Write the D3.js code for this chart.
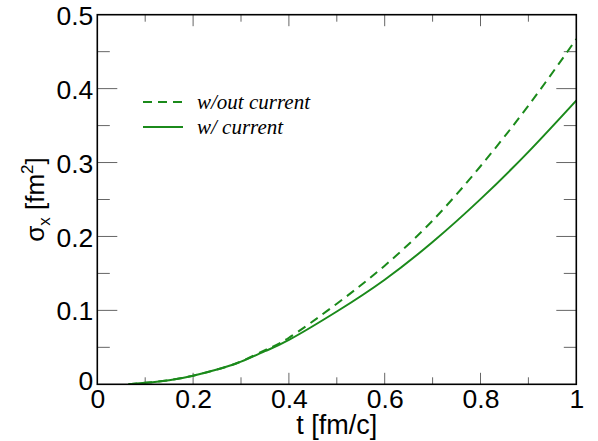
<!DOCTYPE html>
<html>
<head>
<meta charset="utf-8">
<script src="https://cdn.jsdelivr.net/npm/d3@7"></script>
<style>
  html, body { margin: 0; padding: 0; background: #fff; }
  svg { display: block; }
</style>
</head>
<body>
<svg id="chart" width="598" height="441"></svg>
<script>
// ---- data ----
const tWith = [0.065, 0.1, 0.15, 0.2, 0.25, 0.3, 0.35, 0.4, 0.5, 0.6, 0.7, 0.8, 0.9, 1.0];
const sigmaWith = [0.0, 0.002, 0.0055, 0.0117, 0.020, 0.0306, 0.0448, 0.060, 0.0985, 0.1415, 0.1925, 0.2505, 0.3145, 0.384];
const tWithout = [0.065, 0.1, 0.15, 0.2, 0.25, 0.3, 0.35, 0.4, 0.5, 0.6, 0.7, 0.8, 0.9, 1.0];
const sigmaWithout = [0.0, 0.002, 0.0055, 0.0117, 0.020, 0.0308, 0.0462, 0.063, 0.109, 0.1605, 0.2215, 0.295, 0.377, 0.467];
const seriesNames = ["w/out current", "w/ current"];
const xTicks = [0, 0.2, 0.4, 0.6, 0.8, 1];
const xTickLabels = ["0", "0.2", "0.4", "0.6", "0.8", "1"];
const yTicks = [0, 0.1, 0.2, 0.3, 0.4, 0.5];
const yTickLabels = ["0", "0.1", "0.2", "0.3", "0.4", "0.5"];
const xMinor = [0.1, 0.3, 0.5, 0.7, 0.9];
const yMinor = [0.05, 0.15, 0.25, 0.35, 0.45];

// ---- layout ----
const svg = d3.select("#chart");
const L = 97.3, R = 576.3, T = 14.7, B = 384.3;
const x = d3.scaleLinear().domain([0, 1]).range([L, R]);
const y = d3.scaleLinear().domain([0, 0.5]).range([B, T]);
const green = "#1b8a1b";
const tickColor = "#666";

// ticks (inside, mirrored)
const g = svg.append("g");
function xTickLines(vals, len) {
  vals.forEach(v => {
    g.append("line").attr("x1", x(v)).attr("x2", x(v)).attr("y1", B).attr("y2", B - len)
      .attr("stroke", tickColor).attr("stroke-width", 1);
    g.append("line").attr("x1", x(v)).attr("x2", x(v)).attr("y1", T).attr("y2", T + len)
      .attr("stroke", tickColor).attr("stroke-width", 1);
  });
}
function yTickLines(vals, len) {
  vals.forEach(v => {
    g.append("line").attr("y1", y(v)).attr("y2", y(v)).attr("x1", L).attr("x2", L + len)
      .attr("stroke", tickColor).attr("stroke-width", 1);
    g.append("line").attr("y1", y(v)).attr("y2", y(v)).attr("x1", R).attr("x2", R - len)
      .attr("stroke", tickColor).attr("stroke-width", 1);
  });
}
xTickLines(xTicks.slice(1, -1), 11.5);
xTickLines(xMinor, 7);
yTickLines(yTicks.slice(1, -1), 20);
yTickLines(yMinor, 12.5);

// curves
const line = d3.line().x(d => x(d[0])).y(d => y(d[1])).curve(d3.curveNatural);
const dWithout = tWithout.map((t, i) => [t, sigmaWithout[i]]);
const dWith = tWith.map((t, i) => [t, sigmaWith[i]]);
svg.append("clipPath").attr("id", "clip").append("rect")
  .attr("x", L).attr("y", T).attr("width", R - L).attr("height", B - T);
svg.append("path").datum(dWithout).attr("d", line).attr("fill", "none")
  .attr("stroke", green).attr("stroke-width", 2).attr("stroke-dasharray", "9,6")
  .attr("clip-path", "url(#clip)");
svg.append("path").datum(dWith).attr("d", line).attr("fill", "none")
  .attr("stroke", green).attr("stroke-width", 2)
  .attr("clip-path", "url(#clip)");

// frame
svg.append("rect").attr("x", L).attr("y", T).attr("width", R - L).attr("height", B - T)
  .attr("fill", "none").attr("stroke", "#000").attr("stroke-width", 1.6);

// tick labels
const font = "'Liberation Sans', Arial, Helvetica, sans-serif";
const fs = 26.5;
const xAxisG = svg.append("g").attr("transform", `translate(0,${B})`)
  .call(d3.axisBottom(x).tickValues(xTicks).tickSize(0).tickPadding(0)
    .tickFormat((d, i) => xTickLabels[i]));
xAxisG.select(".domain").remove();
xAxisG.selectAll("text").attr("font-family", font).attr("font-size", fs)
  .attr("fill", "#000").attr("dy", null).attr("y", 24);

const yAxisG = svg.append("g").attr("transform", `translate(${L},0)`)
  .call(d3.axisLeft(y).tickValues(yTicks).tickSize(0).tickPadding(0)
    .tickFormat((d, i) => yTickLabels[i]));
yAxisG.select(".domain").remove();
yAxisG.selectAll("text").attr("font-family", font).attr("font-size", fs)
  .attr("fill", "#000").attr("x", -4).attr("dy", "0.36em");
yAxisG.selectAll(".tick").filter(d => d === 0).select("text").attr("dy", "0.2em");

// axis titles
svg.append("text").attr("x", (L + R) / 2).attr("y", 434).attr("text-anchor", "middle")
  .attr("font-family", font).attr("font-size", 27).attr("fill", "#000")
  .text("t [fm/c]");

const yl = svg.append("text").attr("transform", `translate(44,${(T + B) / 2}) rotate(-90)`)
  .attr("text-anchor", "middle").attr("font-family", font).attr("font-size", 26).attr("fill", "#000");
yl.append("tspan").text("σ");
yl.append("tspan").attr("font-size", 17).attr("dy", 6).text("x");
yl.append("tspan").attr("dy", -6).text(" [fm");
yl.append("tspan").attr("font-size", 17).attr("dy", -11).text("2");
yl.append("tspan").attr("dy", 11).text("]");

// legend
const lg = svg.append("g");
const legendY = [102, 127];
const serif = "'Liberation Serif', 'Times New Roman', serif";
seriesNames.forEach((name, i) => {
  lg.append("line").attr("x1", 143).attr("x2", 183).attr("y1", legendY[i]).attr("y2", legendY[i])
    .attr("stroke", green).attr("stroke-width", 2)
    .attr("stroke-dasharray", i === 0 ? "9,6" : null);
  lg.append("text").attr("x", 197).attr("y", legendY[i] + 6.5)
    .attr("font-family", serif).attr("font-style", "italic").attr("font-size", 21)
    .attr("fill", "#000").text(name);
});
</script>
</body>
</html>
